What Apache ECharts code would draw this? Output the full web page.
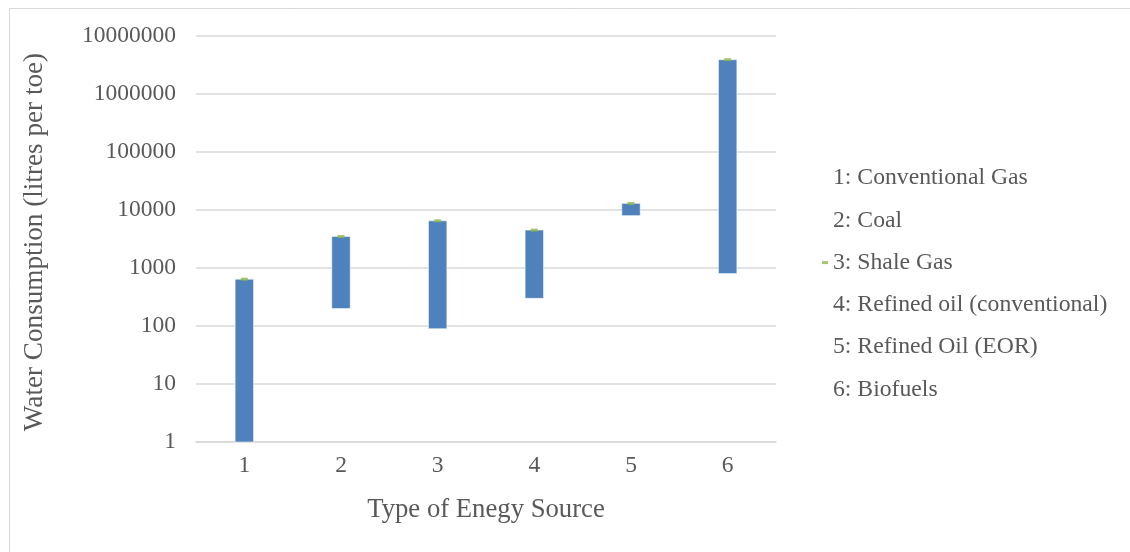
<!DOCTYPE html>
<html><head><meta charset="utf-8">
<script src="https://cdn.jsdelivr.net/npm/echarts@6/dist/echarts.min.js"></script>
<style>html,body{margin:0;padding:0;background:#fff}#c{width:1130px;height:552px}</style>
</head><body><div id="c"></div>
<script>
const categories = ['1', '2', '3', '4', '5', '6'];
const lowValues = [1, 200, 90, 300, 8000, 800];
const highValues = [640, 3500, 6500, 4500, 13000, 3900000];
const legendNames = ['1: Conventional Gas', '2: Coal', '3: Shale Gas', '4: Refined oil (conventional)', '5: Refined Oil (EOR)', '6: Biofuels'];
const yMin = 1;
const yMax = 10000000;
const xAxisTitle = 'Type of Enegy Source';
const yAxisTitle = 'Water Consumption (litres per toe)';

const FONT = '"Liberation Serif", "Times New Roman", serif';
const TXT = '#595959';
const GRID = '#D9D9D9';

const chart = echarts.init(document.getElementById('c'), null, {renderer: 'canvas'});

const rangeData = categories.map((c, i) => [i, lowValues[i], highValues[i]]);
const markerData = categories.map((c, i) => [i, highValues[i]]);

const series = [
  {
    type: 'custom',
    name: 'range',
    data: rangeData,
    encode: {x: 0, y: [1, 2]},
    z: 2,
    renderItem: function (params, api) {
      const x = api.value(0), lo = api.value(1), hi = api.value(2);
      const pTop = api.coord([x, hi]);
      const pBot = api.coord([x, lo]);
      const w = api.size([1, 0])[0] * 0.19;
      return {
        type: 'rect',
        shape: {x: pTop[0] - w / 2, y: pTop[1], width: w, height: pBot[1] - pTop[1]},
        style: {fill: '#4F81BD', stroke: '#FFFFFF', lineWidth: 0.5}
      };
    }
  },
  {
    type: 'scatter',
    name: legendNames[2],
    data: markerData,
    symbol: 'rect',
    symbolSize: [7, 3],
    itemStyle: {color: '#8DB84A'},
    z: 5,
    silent: true
  }
];
legendNames.forEach((n, i) => {
  if (i !== 2) series.push({type: 'line', name: n, data: [], silent: true, itemStyle: {color: '#ffffff'}});
});

chart.setOption({
  animation: false,
  backgroundColor: '#ffffff',
  graphic: [{
    type: 'rect', left: 7, top: 6, silent: true, z: -1,
    shape: {x: 0, y: 0, width: 1200, height: 600},
    style: {fill: 'none', stroke: GRID, lineWidth: 1}
  }],
  grid: {left: 196, right: 354, top: 36, bottom: 110, containLabel: false},
  legend: {
    orient: 'vertical',
    left: 817,
    top: 161,
    itemWidth: 6,
    itemHeight: 3,
    itemGap: 18.3,
    selectedMode: false,
    data: legendNames.map((n, i) => ({name: n, icon: i === 2 ? 'rect' : 'none'})),
    textStyle: {fontFamily: FONT, fontSize: 23.7, color: TXT}
  },
  xAxis: {
    type: 'category',
    data: categories,
    name: xAxisTitle,
    nameLocation: 'middle',
    nameGap: 54,
    nameTextStyle: {fontFamily: FONT, fontSize: 26.7, color: TXT},
    axisLine: {show: true, lineStyle: {color: GRID, width: 1.5}},
    axisTick: {show: false},
    axisLabel: {fontFamily: FONT, fontSize: 23.5, color: TXT, margin: 12},
    splitLine: {show: false}
  },
  yAxis: {
    type: 'log',
    logBase: 10,
    min: yMin,
    max: yMax,
    name: yAxisTitle,
    nameLocation: 'middle',
    nameGap: 148,
    nameTextStyle: {fontFamily: FONT, fontSize: 27.2, color: TXT, padding: [0, 6, 0, 0]},
    axisLine: {show: false},
    axisTick: {show: false},
    axisLabel: {fontFamily: FONT, fontSize: 23.5, color: TXT, margin: 20, formatter: v => String(Math.round(v))},
    splitLine: {show: true, lineStyle: {color: GRID, width: 1.5}}
  },
  series: series
});
</script>
</body></html>
